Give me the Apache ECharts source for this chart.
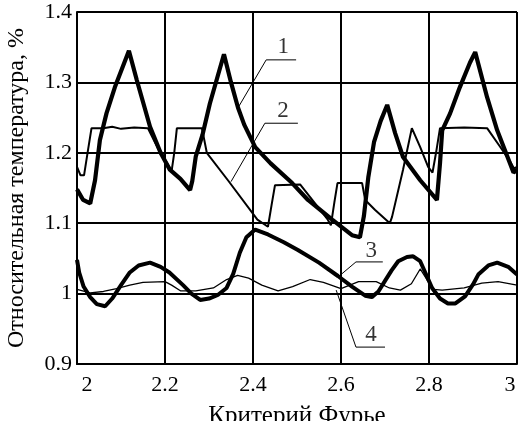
<!DOCTYPE html>
<html>
<head>
<meta charset="utf-8">
<script src="https://cdn.jsdelivr.net/npm/echarts@6/dist/echarts.min.js"></script>
<style>
html,body{margin:0;padding:0;background:#fff;}
#chart{width:518px;height:421px;}
</style>
</head>
<body>
<div id="chart"></div>
<script>
// Tick labels
var xTicks = ['2', '2.2', '2.4', '2.6', '2.8', '3'];
var yTicks = ['0.9', '1', '1.1', '1.2', '1.3', '1.4'];

// Curve 1 (thick sawtooth)
var curve1 = [
  [2.0,1.148],[2.014,1.133],[2.03,1.128],[2.041,1.161],[2.052,1.218],[2.067,1.256],[2.086,1.293],[2.118,1.345],
  [2.136,1.303],[2.166,1.237],[2.19,1.2],[2.211,1.176],[2.235,1.163],[2.257,1.147],[2.262,1.16],[2.27,1.195],
  [2.285,1.225],[2.302,1.27],[2.334,1.34],[2.35,1.3],[2.366,1.264],[2.38,1.24],[2.405,1.208],[2.44,1.185],
  [2.489,1.157],[2.525,1.133],[2.58,1.105],[2.625,1.083],[2.643,1.08],[2.652,1.11],[2.662,1.165],[2.675,1.215],
  [2.69,1.245],[2.705,1.268],[2.723,1.228],[2.741,1.194],[2.78,1.161],[2.818,1.133],[2.825,1.185],[2.83,1.232],
  [2.848,1.256],[2.87,1.293],[2.893,1.328],[2.905,1.343],[2.932,1.279],[2.955,1.232],[2.984,1.185],[2.992,1.172],[3.0,1.176]
];

// Curve 2 (plateau curve)
var curve2 = [
  [2.0,1.18],[2.008,1.168],[2.016,1.168],[2.024,1.2],[2.033,1.235],[2.06,1.235],[2.08,1.237],[2.1,1.234],
  [2.13,1.236],[2.161,1.235],[2.185,1.205],[2.205,1.185],[2.215,1.174],[2.221,1.2],[2.227,1.235],[2.284,1.235],
  [2.295,1.2],[2.343,1.161],[2.41,1.105],[2.434,1.095],[2.442,1.125],[2.45,1.154],[2.507,1.155],[2.57,1.105],
  [2.577,1.097],[2.585,1.13],[2.592,1.157],[2.648,1.157],[2.655,1.133],[2.677,1.119],[2.711,1.1],[2.716,1.109],
  [2.741,1.176],[2.761,1.235],[2.78,1.208],[2.798,1.18],[2.808,1.172],[2.816,1.2],[2.825,1.235],[2.88,1.236],
  [2.932,1.235],[2.96,1.21],[2.984,1.188],[2.993,1.178],[3.0,1.18]
];

// Curve 3 (thick oscillating)
var curve3 = [
  [2.0,1.048],[2.005,1.03],[2.015,1.01],[2.03,0.995],[2.045,0.985],[2.064,0.982],[2.08,0.993],[2.1,1.012],
  [2.12,1.03],[2.14,1.04],[2.166,1.044],[2.19,1.038],[2.21,1.03],[2.241,1.012],[2.26,1.0],[2.28,0.991],
  [2.3,0.993],[2.32,0.998],[2.34,1.008],[2.355,1.028],[2.37,1.058],[2.385,1.08],[2.405,1.091],[2.434,1.084],
  [2.47,1.073],[2.502,1.062],[2.55,1.044],[2.593,1.025],[2.625,1.01],[2.655,0.997],[2.67,0.995],[2.685,1.003],
  [2.7,1.018],[2.715,1.033],[2.73,1.046],[2.75,1.052],[2.764,1.053],[2.78,1.046],[2.795,1.025],[2.807,1.008],
  [2.825,0.993],[2.843,0.986],[2.86,0.986],[2.882,0.996],[2.9,1.013],[2.912,1.027],[2.935,1.04],[2.955,1.044],
  [2.98,1.038],[3.0,1.027]
];

// Curve 4 (thin)
var curve4 = [
  [2.0,1.006],[2.03,1.001],[2.06,1.003],[2.09,1.007],[2.12,1.012],[2.15,1.016],[2.2,1.017],[2.215,1.012],
  [2.235,1.004],[2.27,1.004],[2.31,1.008],[2.34,1.02],[2.365,1.026],[2.39,1.022],[2.42,1.012],[2.457,1.004],
  [2.49,1.01],[2.53,1.02],[2.56,1.016],[2.6,1.007],[2.62,1.012],[2.64,1.017],[2.68,1.017],[2.71,1.008],
  [2.735,1.005],[2.76,1.014],[2.78,1.035],[2.795,1.02],[2.81,1.006],[2.83,1.005],[2.88,1.008],[2.92,1.015],
  [2.957,1.017],[3.0,1.012]
];

// Leader lines for curve labels (data coordinates)
var leader1 = [[2.366,1.264],[2.43,1.332],[2.498,1.332]];
var leader2 = [[2.35,1.159],[2.427,1.242],[2.502,1.242]];
var leader3 = [[2.598,1.026],[2.634,1.045],[2.695,1.045]];
var leader4 = [[2.589,1.005],[2.634,0.924],[2.70,0.924]];
var labelNames = ['1', '2', '3', '4'];
var labelPos = [[2.469,1.350],[2.468,1.259],[2.669,1.060],[2.668,0.941]];

var FONT = '"Liberation Serif", "Times New Roman", serif';

function lineSeries(data, w) {
  return {
    type: 'line', data: data, showSymbol: false, symbol: 'none', silent: true,
    lineStyle: { color: '#000', width: w }, animation: false, z: 3
  };
}

var series = [
  lineSeries(curve4, 1.3),
  lineSeries(curve3, 4),
  lineSeries(curve2, 2),
  lineSeries(curve1, 4.2),
  lineSeries(leader1, 1),
  lineSeries(leader2, 1),
  lineSeries(leader3, 1),
  lineSeries(leader4, 1),
  {
    type: 'scatter', symbolSize: 0, silent: true, animation: false,
    data: labelPos.map(function (p, i) { return { value: p, name: labelNames[i] }; }),
    label: { show: true, position: 'inside', formatter: '{b}', color: '#000', fontFamily: FONT, fontSize: 23 }
  }
];

var chart = echarts.init(document.getElementById('chart'), null, { renderer: 'canvas' });
chart.setOption({
  backgroundColor: '#fff',
  animation: false,
  grid: { left: 77, top: 12, right: 1, bottom: 57, containLabel: false, outerBoundsMode: 'none' },
  xAxis: {
    type: 'value', min: 2, max: 3, interval: 0.2,
    name: 'Критерий Фурье', nameLocation: 'middle', nameGap: 40,
    nameTextStyle: { color: '#000', fontFamily: FONT, fontSize: 25 },
    axisLine: { show: true, lineStyle: { color: '#000', width: 2 } },
    axisTick: { show: false },
    splitLine: { show: true, lineStyle: { color: '#000', width: 2 } },
    axisLabel: {
      color: '#000', fontFamily: FONT, fontSize: 22, margin: 10,
      formatter: function (v) {
        var i = Math.round((v - 2) / 0.2);
        if (i === 0) return '{a|' + xTicks[i] + '}';
        if (i === xTicks.length - 1) return '{b|' + xTicks[i] + '}';
        return xTicks[i];
      },
      rich: {
        a: { fontFamily: FONT, fontSize: 22, color: '#000', padding: [0, 0, 0, 20] },
        b: { fontFamily: FONT, fontSize: 22, color: '#000', padding: [0, 14, 0, 0] }
      }
    }
  },
  yAxis: {
    type: 'value', min: 0.9, max: 1.4, interval: 0.1,
    name: 'Относительная температура, %', nameLocation: 'middle', nameGap: 48,
    nameTextStyle: { color: '#000', fontFamily: FONT, fontSize: 24 },
    axisLine: { show: true, lineStyle: { color: '#000', width: 2 } },
    axisTick: { show: false },
    splitLine: { show: true, lineStyle: { color: '#000', width: 2 } },
    axisLabel: {
      color: '#000', fontFamily: FONT, fontSize: 22, margin: 5,
      formatter: function (v) { var i = Math.round((v - 0.9) / 0.1); return yTicks[i]; }
    }
  },
  series: series
});
</script>
</body>
</html>
